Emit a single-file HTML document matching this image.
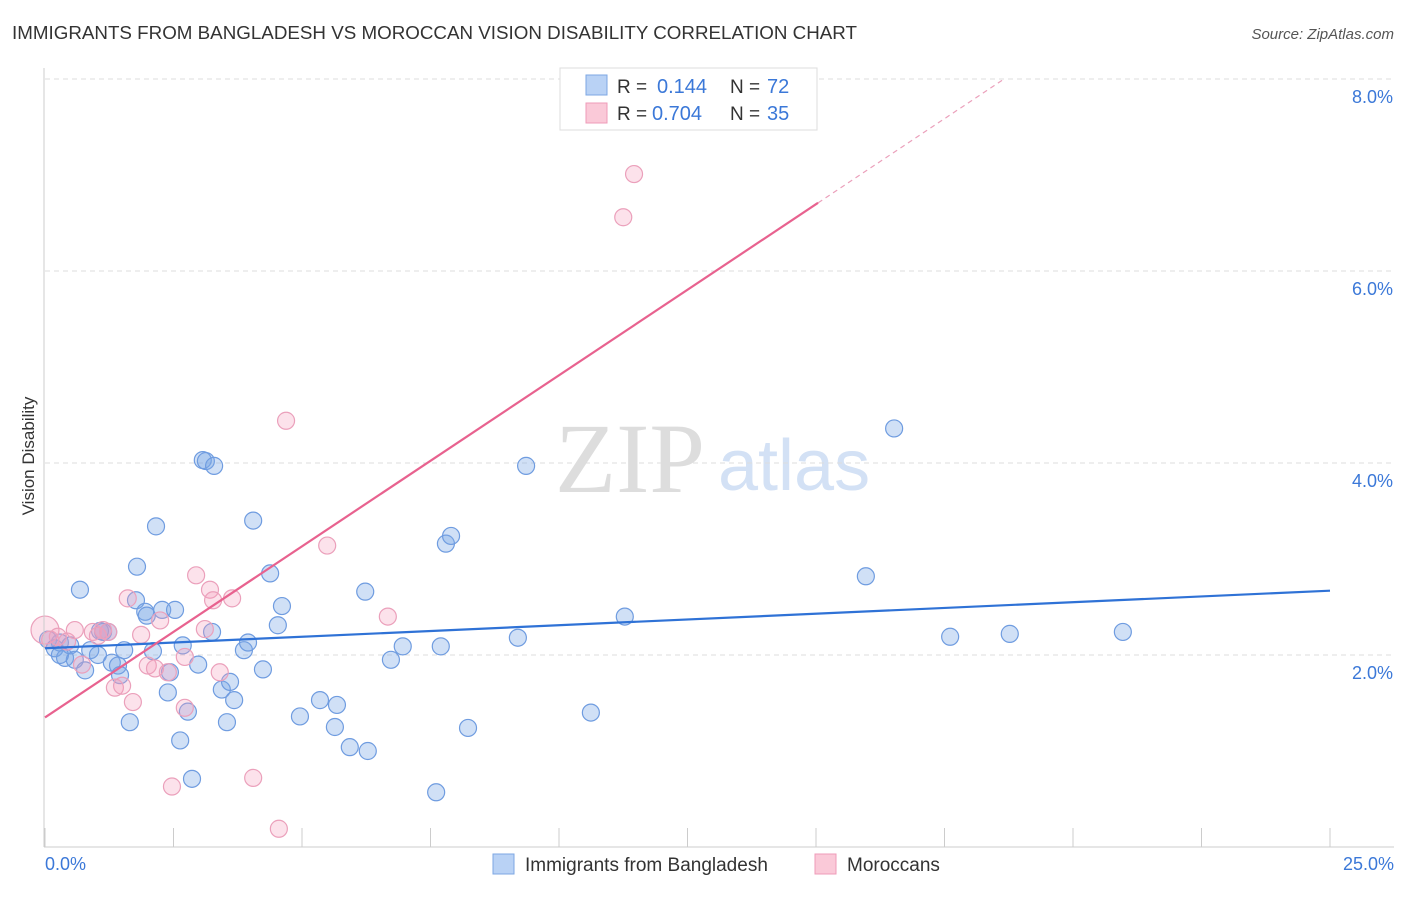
<!DOCTYPE html>
<html><head><meta charset="utf-8"><style>
body{margin:0;background:#fff;font-family:"Liberation Sans",sans-serif}
svg text{font-family:"Liberation Sans",sans-serif}
</style></head><body>
<svg id="c" width="1406" height="892" xmlns="http://www.w3.org/2000/svg">
<text x="12" y="39" font-size="18" fill="#333" textLength="845" lengthAdjust="spacingAndGlyphs">IMMIGRANTS FROM BANGLADESH VS MOROCCAN VISION DISABILITY CORRELATION CHART</text>
<text x="1394" y="39" font-size="15" fill="#555" font-style="italic" text-anchor="end">Source: ZipAtlas.com</text>
<text x="0" y="0" transform="translate(34,456) rotate(-90)" font-size="17" fill="#333" text-anchor="middle">Vision Disability</text>
<text x="555" y="492" font-size="100" fill="#ddd" style="font-family:'Liberation Serif',serif">ZIP</text>
<text x="718" y="490" font-size="72" fill="#d3e1f5">atlas</text>
<g id="grid"></g><g id="ticks"></g><g id="pts"></g><g id="lines"></g>
<line x1="44" y1="68" x2="44" y2="847" stroke="#ccc"/>
<line x1="44" y1="847" x2="1394" y2="847" stroke="#ccc"/>
<text x="45" y="870" font-size="18" fill="#3b78d8">0.0%</text>
<text x="1394" y="870" font-size="18" fill="#3b78d8" text-anchor="end">25.0%</text>
<g>
<rect x="560" y="68" width="257" height="62" fill="#fff" stroke="#ddd"/>
<rect x="586" y="75" width="21" height="20" fill="#b9d2f5" stroke="#7da7e3"/>
<rect x="586" y="103" width="21" height="20" fill="#fac9d8" stroke="#ef9bb8"/>
<text x="617" y="93" font-size="19" fill="#333">R = </text><text x="657" y="93" font-size="20" fill="#3b78d8">0.144</text>
<text x="730" y="93" font-size="19" fill="#333">N = </text><text x="767" y="93" font-size="20" fill="#3b78d8">72</text>
<text x="617" y="120" font-size="19" fill="#333">R = </text><text x="652" y="120" font-size="20" fill="#3b78d8">0.704</text>
<text x="730" y="120" font-size="19" fill="#333">N = </text><text x="767" y="120" font-size="20" fill="#3b78d8">35</text>
</g>
<g>
<rect x="493" y="854" width="21" height="20" fill="#b9d2f5" stroke="#7da7e3"/>
<text x="525" y="871" font-size="19" fill="#333">Immigrants from Bangladesh</text>
<rect x="815" y="854" width="21" height="20" fill="#fac9d8" stroke="#ef9bb8"/>
<text x="847" y="871" font-size="19" fill="#333">Moroccans</text>
</g>
</svg>
<script>
const yTicks=[2,4,6,8];
const xTickVals=[0,2.5,5,7.5,10,12.5,15,17.5,20,22.5,25];
const blueX=[0.06,0.19,0.29,0.39,0.49,0.58,0.68,0.78,0.88,1.03,1.13,1.23,1.30,1.42,1.46,1.54,1.65,1.79,1.77,1.95,1.98,2.10,2.16,2.28,2.39,2.43,2.53,2.63,2.68,2.78,2.86,2.98,3.07,3.13,3.25,3.29,3.44,3.54,3.60,3.68,3.87,3.95,4.05,4.24,4.38,4.53,4.61,4.96,5.35,5.64,5.68,5.93,6.23,6.28,6.73,6.96,7.61,7.70,7.80,7.90,8.23,9.20,9.36,10.62,11.28,15.97,16.52,17.61,18.77,20.97,0.29,1.07];
const blueY=[2.16,2.07,2.13,1.97,2.10,1.95,2.68,1.84,2.05,2.00,2.24,2.24,1.92,1.89,1.79,2.05,1.30,2.92,2.57,2.45,2.41,2.04,3.34,2.47,1.61,1.82,2.47,1.11,2.10,1.41,0.71,1.90,4.03,4.02,2.24,3.97,1.64,1.30,1.72,1.53,2.05,2.13,3.40,1.85,2.85,2.31,2.51,1.36,1.53,1.25,1.48,1.04,2.66,1.00,1.95,2.09,0.57,2.09,3.16,3.24,1.24,2.18,3.97,1.40,2.40,2.82,4.36,2.19,2.22,2.24,2.00,2.25];
const pinkX=[0.00,0.10,0.25,0.43,0.58,0.72,0.93,1.03,1.13,1.23,1.36,1.50,1.61,1.71,1.87,2.00,2.14,2.24,2.39,2.47,2.72,2.72,2.94,3.11,3.21,3.27,3.40,3.64,4.05,4.55,4.69,5.49,6.67,11.25,11.46];
const pinkY=[2.26,2.16,2.19,2.14,2.26,1.90,2.24,2.20,2.26,2.24,1.66,1.68,2.59,1.51,2.21,1.89,1.86,2.36,1.82,0.63,1.45,1.98,2.83,2.27,2.68,2.57,1.82,2.59,0.72,0.19,4.44,3.14,2.40,6.56,7.01];
const blueLine=[2.07,2.67];
const pinkLine=[1.35,6.71,15.04];
const X=v=>45+v*51.4, Y=v=>847-v*96;
const NS="http://www.w3.org/2000/svg";
function mk(p,t,a){const e=document.createElementNS(NS,t);for(const k in a)e.setAttribute(k,a[k]);p.appendChild(e);return e;}
const grid=document.getElementById('grid'),ticks=document.getElementById('ticks'),pts=document.getElementById('pts'),lines=document.getElementById('lines');
yTicks.forEach(v=>{
 const l=mk(grid,'line',{x1:45,x2:1394,y1:Y(v),y2:Y(v),stroke:'#ddd','stroke-dasharray':'5,4'});
 
 
 const t=mk(ticks,'text',{x:1393,y:Y(v)+24,'font-size':18,fill:'#3b78d8','text-anchor':'end'});
 t.textContent=v.toFixed(1)+'%';
 
 
});
xTickVals.forEach(v=>{
 const l=mk(ticks,'line',{x1:X(v),x2:X(v),y1:828,y2:847,stroke:'#ccc'});
 
 
});
blueX.forEach((v,i)=>{
 const c=mk(pts,'circle',{cx:X(v),cy:Y(blueY[i]),r:8.5,fill:'rgba(120,165,230,0.35)',stroke:'#6f9ce0','stroke-width':1.2});
 
 
});
pinkX.forEach((v,i)=>{
 const c=mk(pts,'circle',{cx:X(v),cy:Y(pinkY[i]),r:i==0?14:8.5,fill:'rgba(245,160,190,0.3)',stroke:'#eba0bb','stroke-width':1.2});
 
 
});
const bl=mk(lines,'line',{x1:X(0),y1:Y(blueLine[0]),x2:X(25),y2:Y(blueLine[1]),stroke:'#2f72d6','stroke-width':2.2});


const slope=(pinkLine[1]-pinkLine[0])/pinkLine[2];
const pl=mk(lines,'line',{x1:X(0),y1:Y(pinkLine[0]),x2:X(pinkLine[2]),y2:Y(pinkLine[1]),stroke:'#e8628f','stroke-width':2.2});


const xe=(8.0-pinkLine[0])/slope;
const pd=mk(lines,'line',{x1:X(pinkLine[2]),y1:Y(pinkLine[1]),x2:X(xe),y2:Y(8.0),stroke:'#eba0bb','stroke-width':1.2,'stroke-dasharray':'5,4'});


</script>
</body></html>
